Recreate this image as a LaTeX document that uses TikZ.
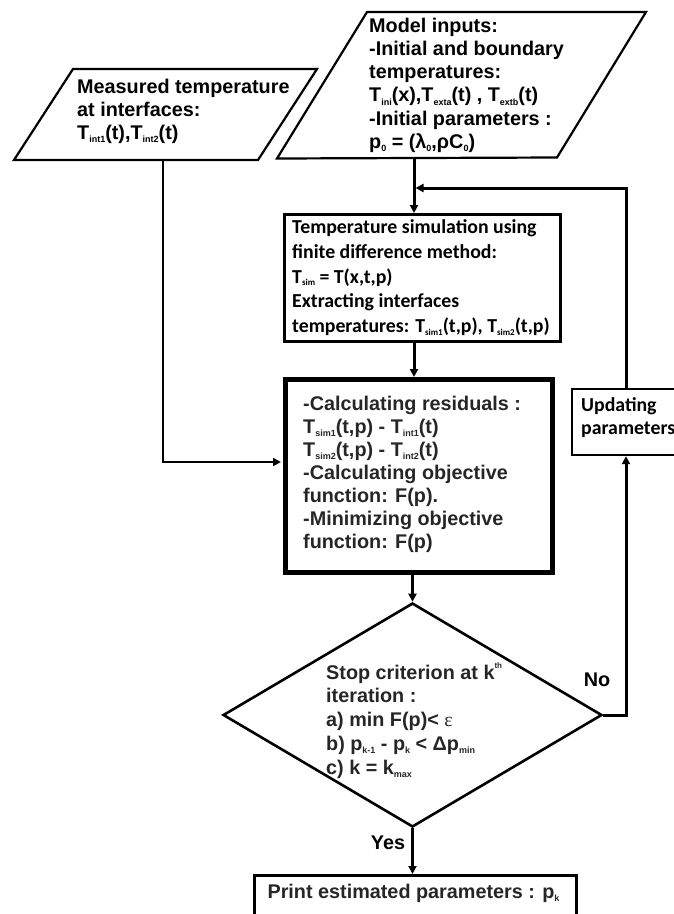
\documentclass[tikz,border=0pt]{standalone}
\usepackage{fontspec}
\setmainfont{Liberation Sans}
\newfontfamily\calfont{Carlito}
\newfontfamily\epsfont{Liberation Serif}
\usetikzlibrary{arrows.meta,shapes.geometric}
\newcommand\lo[1]{\raisebox{-0.3ex}{\fontsize{9}{9}\selectfont #1}}
\newcommand\hi[1]{\smash{\raisebox{1.05ex}{\fontsize{8}{8}\selectfont #1}}}
\begin{document}
\begin{tikzpicture}[x=1pt,y=-1pt,
  para/.style={draw=black, line width=2.2pt, line join=miter},
  txta/.style={anchor=north west, inner sep=0pt, align=left, font=\bfseries\fontsize{19.8}{23.3}\selectfont},
  txtc/.style={anchor=north west, inner sep=0pt, align=left, font=\calfont\bfseries\fontsize{19.8}{24.7}\selectfont},
  lbl/.style={inner sep=0pt, font=\bfseries\fontsize{19.8}{23}\selectfont},
  tbox/.style={draw=black, line width=3pt, inner sep=0pt},
  cbox/.style={draw=black, line width=5pt, inner sep=0pt},
  ubox/.style={draw=black, line width=2.2pt, inner sep=0pt},
  pbox/.style={draw=black, line width=2.6pt, inner sep=0pt},
  dia/.style={draw=black, shape=diamond, line width=2.6pt, inner sep=0pt},
  arr/.style={line width=3pt, -{Triangle[length=8pt,width=8pt]}},
  thinarr/.style={line width=2.4pt, -{Triangle[length=8pt,width=8pt]}},
]
\useasboundingbox (0,0) rectangle (674,914);
\clip (0,0) rectangle (674,914);

% input parallelograms
\draw[para] (73,69) -- (317,69) -- (258,160) -- (14,160) -- cycle;
\node[txta] (meas) at (77,78.5) {Measured temperature\\at interfaces:\\T\lo{int1}(t),T\lo{int2}(t)};
\coordinate (mp) at (163,160);

\draw[para] (367,12) -- (646,12) -- (557,157.5) -- (277,158.5) -- cycle;
\node[txta] (model) at (369,17.5) {Model inputs:\\-Initial and boundary\\temperatures:\\T\lo{ini}(x),T\lo{exta}(t) , T\lo{extb}(t)\\-Initial parameters :\\p\lo{0} = (λ\lo{0},ρC\lo{0})};
\coordinate (mb) at (414,158);

% simulation box
\node[tbox, minimum width=276pt, minimum height=127pt, anchor=north west] (temp) at (283,213) {};
\node[txtc] (temptxt) at (292,219.5) {Temperature simulation using\\finite difference method:\\T\lo{sim} = T(x,t,p)\\Extracting interfaces\\temperatures: T\lo{sim1}(t,p), T\lo{sim2}(t,p)};

% calculation box
\node[cbox, minimum width=267pt, minimum height=193pt, anchor=north west] (calc) at (283,377) {};
\node[txta, text=black!85, font=\bfseries\fontsize{19.8}{23}\selectfont] (calctxt) at (303,395.5) {-Calculating residuals :\\T\lo{sim1}(t,p) - T\lo{int1}(t)\\T\lo{sim2}(t,p) - T\lo{int2}(t)\\-Calculating objective\\function: F(p).\\-Minimizing objective\\function: F(p)};
\coordinate (calcin) at (281,462);

% updating box
\node[ubox, minimum width=130pt, minimum height=66pt, anchor=north west] (upd) at (571,388) {};
\node[txtc, font=\calfont\bfseries\fontsize{19.8}{23}\selectfont] (updtxt) at (581,397.5) {Updating\\parameters};
\coordinate (fb) at (626,188);

% decision
\node[dia, minimum width=379pt, minimum height=224pt] (stop) at (412.5,715) {};
\node[txta, text=black!85, font=\bfseries\fontsize{19.8}{23.8}\selectfont] (stoptxt) at (326,664.5) {Stop criterion at k\hi{th}\\iteration :\\a) min F(p)< {\epsfont\mdseries ε}\\b) p\lo{k-1} - p\lo{k} < Δp\lo{min}\\c) k = k\lo{max}};

% output (bottom edge runs past the frame)
\node[pbox, minimum width=322pt, minimum height=60pt, anchor=north west] (print) at (253,874) {};
\node[inner sep=0pt, text=black!85, font=\bfseries\fontsize{19.8}{23}\selectfont] (printtxt) at (413.5,893) {Print estimated parameters : p\lo{k}};

% labels
\node[lbl] (yes) at (388,843) {Yes};
\node[lbl] (no) at (597,680) {No};

% connectors
\draw[thinarr] (mp) |- (calcin);
\draw[arr] (mb) -- (mb |- temp.north);
\draw[arr] (temp.south -| mb) -- (calc.north -| mb);
\draw[arr] (calc.south -| stop.north) -- (stop.north);
\draw[arr] (stop.south) -- (stop.south |- print.north);
\draw[arr] (stop.east) -| (upd.south -| fb);
\draw[arr] (upd.north -| fb) |- ([xshift=1.5pt]mb |- fb);
\end{tikzpicture}
\end{document}
